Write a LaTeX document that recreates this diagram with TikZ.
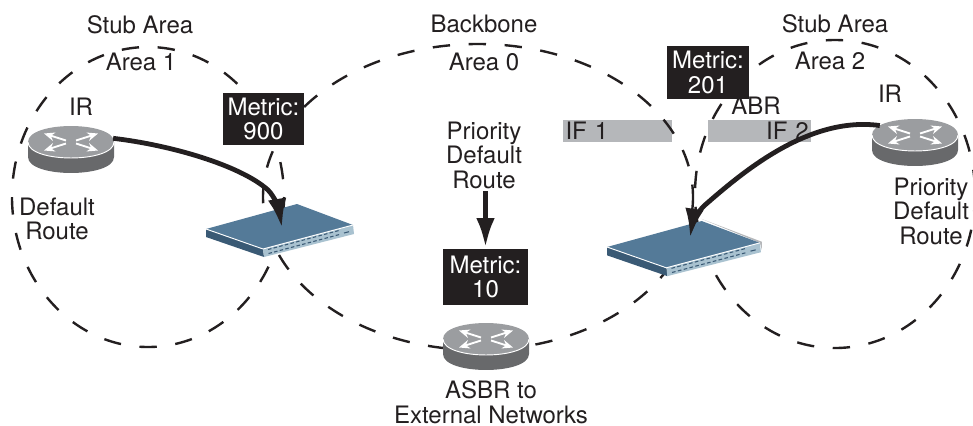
\documentclass[tikz,border=0pt]{standalone}
\usepackage{fontspec}
\setmainfont{TeX Gyre Heros}
\usetikzlibrary{arrows.meta,shapes.geometric}
\definecolor{ink}{HTML}{231F20}
\definecolor{barg}{HTML}{B5B7BA}
\definecolor{rtop}{HTML}{9B9DA0}
\definecolor{rside}{HTML}{68696B}
\definecolor{swtop}{HTML}{547A98}
\definecolor{swleft}{HTML}{3A5A75}
\definecolor{swfront}{HTML}{A9C2D0}
\newcommand{\routerbody}[1]{%
  \begin{scope}[shift={(#1)}]
    \fill[rside] (-43,0) -- (-43,15) .. controls (-43,36.3) and (43,36.3) .. (43,15) -- (43,0) -- cycle;
    \fill[rtop] (-43,0) .. controls (-43,-21.3) and (43,-21.3) .. (43,0) .. controls (43,21.3) and (-43,21.3) .. (-43,0) -- cycle;
    \draw[white,line width=0.7pt] (-43,0) .. controls (-43,21.3) and (43,21.3) .. (43,0);
    \foreach \sx/\sy in {-1/-1,1/-1,-1/1,1/1}{
      \draw[white,line width=1.4pt,-{Stealth[length=8pt,width=6.5pt]}] (\sx*5,\sy*1.5) -- (\sx*27,\sy*8.5);
    }
  \end{scope}}
\newcommand{\switchbody}[3]{%
  \begin{scope}[shift={(#1)},scale=#2]
    #3
    \fill[swleft] (0,0) -- (57,20) -- (58,28) -- (0,8) -- cycle;
    \fill[swfront] (57,20) -- (147,-4) -- (148,5) -- (58,28) -- cycle;
    \fill[swtop] (0,0) -- (91,-25) -- (147,-4) -- (57,20) -- cycle;
    \draw[white,line width=0.7pt] (0,0) -- (57,20) -- (147,-4);
    \foreach \k in {0,...,12}{
      \draw[swleft,line width=0.8pt] (62+\k*5.6,20.5-\k*1.5) -- ++(3.4,-0.9);
      \draw[swleft,line width=0.8pt] (62.5+\k*5.6,24.5-\k*1.5) -- ++(3.4,-0.9);
    }
    \draw[swleft,line width=0.8pt] (138,4) -- ++(5,-1.3);
  \end{scope}}
\tikzset{
  every node/.style={font=\fontsize{18}{18.4}\selectfont,text=ink,inner sep=0pt,align=center},
  arealine/.style={ink,line width=1.8pt,dash pattern=on 13pt off 14pt},
  metricbox/.style={fill=ink,text=white,minimum width=61pt,minimum height=39.5pt},
  ifbar/.style={fill=barg,minimum height=16.5pt,text depth=0pt},
  routernode/.style={ellipse,minimum width=64.5pt,minimum height=24pt},
  flow/.style={ink,line width=3.6pt,-{Latex[length=22pt,width=14pt]}}
}
\begin{document}
\begin{tikzpicture}[x=0.75pt,y=-0.75pt]
\useasboundingbox (0,0) rectangle (973,425);
% interface bars
\node[ifbar,minimum width=81.75pt,text width=78pt,align=left] (ifa) at (617.5,131) {IF 1};
\node[ifbar,minimum width=77.25pt,text width=74pt,align=right] (ifb) at (759.5,131) {IF 2};
% areas
\draw[arealine] (148,197) ellipse[x radius=136,y radius=150];
\draw[arealine] (478,197) ellipse[x radius=215,y radius=153];
\draw[arealine] (835,194) ellipse[x radius=140,y radius=154];
% switches
\switchbody{206,229}{1}{}
\switchbody{607,247}{1.04}{\fill[barg] (91,-27) -- (149,-5) -- (149,3) -- (147,-4) -- cycle;}
\coordinate (swa) at (282,228);
\coordinate (swb) at (690,238);
% routers
\node[routernode] (irl) at (71,142) {};
\node[routernode] (irr) at (915,135) {};
\node[routernode] (asbr) at (486,339) {};
\routerbody{71,142}
\routerbody{915,135}
\routerbody{486,339}
% labels
\node (sa) at (140,25) {Stub Area};
\node (aa) at (141,62) {Area 1};
\node (bb) at (484,24) {Backbone};
\node (ab) at (484,62) {Area 0};
\node (sb) at (835,24) {Stub Area};
\node (ac) at (830,61) {Area 2};
\node (irla) at (81,107) {IR};
\node (irrb) at (890,94) {IR};
\node (abr) at (756,106) {ABR};
\node (dr) at (57,219) {Default\\Route};
\node (pr) at (931,211) {Priority\\Default\\Route};
\node (pm) at (484,155) {Priority\\Default\\Route};
\node[anchor=south,text depth=0pt] (ext) at (491,423.5) {ASBR to\\External Networks};
% metric boxes
\node[metricbox] (ma) at (263.5,119) {Metric:\\900};
\node[metricbox] (mb) at (708,72.5) {Metric:\\201};
\node[metricbox,minimum width=63.5pt,minimum height=42pt] (mc) at (485.5,277) {Metric:\\10};
% flows
\draw[flow] (irl.5) .. controls (170,145) and (240,165) .. (268,190) .. controls (275,197) and (279,210) .. (swa);
\draw[flow] (irr.165) .. controls (810,116) and (745,170) .. (705,205) .. controls (697,212) and (692,225) .. (swb);
\draw[flow,shorten <=2pt,shorten >=1pt] (pm.south -| mc.north) -- (mc.north);
\end{tikzpicture}
\end{document}
